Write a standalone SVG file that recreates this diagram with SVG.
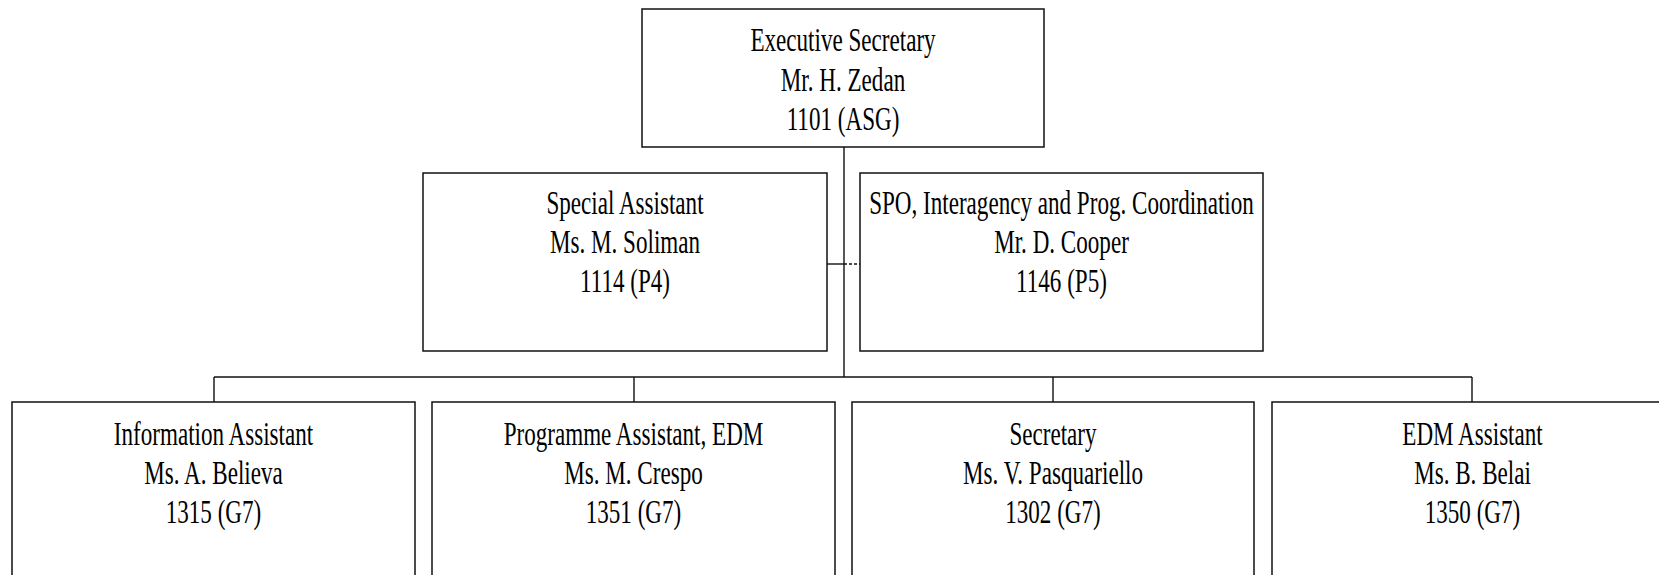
<svg xmlns="http://www.w3.org/2000/svg" width="1659" height="575" viewBox="0 0 1659 575">
<style>
.box{fill:#fff;stroke:#111;stroke-width:1.5}
.ln{fill:none;stroke:#111;stroke-width:1.4}
.dash{fill:none;stroke:#111;stroke-width:1.4;stroke-dasharray:3 2}
.t{font-family:"Liberation Serif","Times New Roman",serif;font-size:33px;fill:#000;text-anchor:middle}
</style>
<rect width="1659" height="575" fill="#fff"/>
<g id="connectors">
<line class="ln" x1="844" y1="147" x2="844" y2="377"/>
<line class="ln" x1="827" y1="264" x2="844" y2="264"/>
<line class="dash" x1="844" y1="264" x2="860" y2="264"/>
<line class="ln" x1="214" y1="377" x2="1472" y2="377"/>
<line class="ln" x1="214" y1="377" x2="214" y2="402"/>
<line class="ln" x1="634" y1="377" x2="634" y2="402"/>
<line class="ln" x1="1053" y1="377" x2="1053" y2="402"/>
<line class="ln" x1="1472" y1="377" x2="1472" y2="402"/>
</g>
<g id="exec">
<rect class="box" x="642" y="9" width="402" height="138"/>
<text class="t" transform="translate(843,51) scale(0.70,1)">Executive Secretary</text>
<text class="t" transform="translate(843,90.5) scale(0.70,1)">Mr. H. Zedan</text>
<text class="t" transform="translate(843,130) scale(0.70,1)">1101 (ASG)</text>
</g>
<g id="special">
<rect class="box" x="423" y="173" width="404" height="178"/>
<text class="t" transform="translate(625,214) scale(0.70,1)">Special Assistant</text>
<text class="t" transform="translate(625,253) scale(0.70,1)">Ms. M. Soliman</text>
<text class="t" transform="translate(625,292) scale(0.70,1)">1114 (P4)</text>
</g>
<g id="spo">
<rect class="box" x="860" y="173" width="403" height="178"/>
<text class="t" transform="translate(1061.5,214) scale(0.70,1)">SPO, Interagency and Prog. Coordination</text>
<text class="t" transform="translate(1061.5,253) scale(0.70,1)">Mr. D. Cooper</text>
<text class="t" transform="translate(1061.5,292) scale(0.70,1)">1146 (P5)</text>
</g>
<g id="info">
<rect class="box" x="12" y="402" width="403" height="190"/>
<text class="t" transform="translate(213.5,445) scale(0.70,1)">Information Assistant</text>
<text class="t" transform="translate(213.5,484) scale(0.70,1)">Ms. A. Believa</text>
<text class="t" transform="translate(213.5,523) scale(0.70,1)">1315 (G7)</text>
</g>
<g id="prog">
<rect class="box" x="432" y="402" width="403" height="190"/>
<text class="t" transform="translate(633.5,445) scale(0.70,1)">Programme Assistant, EDM</text>
<text class="t" transform="translate(633.5,484) scale(0.70,1)">Ms. M. Crespo</text>
<text class="t" transform="translate(633.5,523) scale(0.70,1)">1351 (G7)</text>
</g>
<g id="secretary">
<rect class="box" x="852" y="402" width="402" height="190"/>
<text class="t" transform="translate(1053,445) scale(0.70,1)">Secretary</text>
<text class="t" transform="translate(1053,484) scale(0.70,1)">Ms. V. Pasquariello</text>
<text class="t" transform="translate(1053,523) scale(0.70,1)">1302 (G7)</text>
</g>
<g id="edm">
<rect class="box" x="1272" y="402" width="403" height="190"/>
<text class="t" transform="translate(1472.5,445) scale(0.70,1)">EDM Assistant</text>
<text class="t" transform="translate(1472.5,484) scale(0.70,1)">Ms. B. Belai</text>
<text class="t" transform="translate(1472.5,523) scale(0.70,1)">1350 (G7)</text>
</g>
</svg>
